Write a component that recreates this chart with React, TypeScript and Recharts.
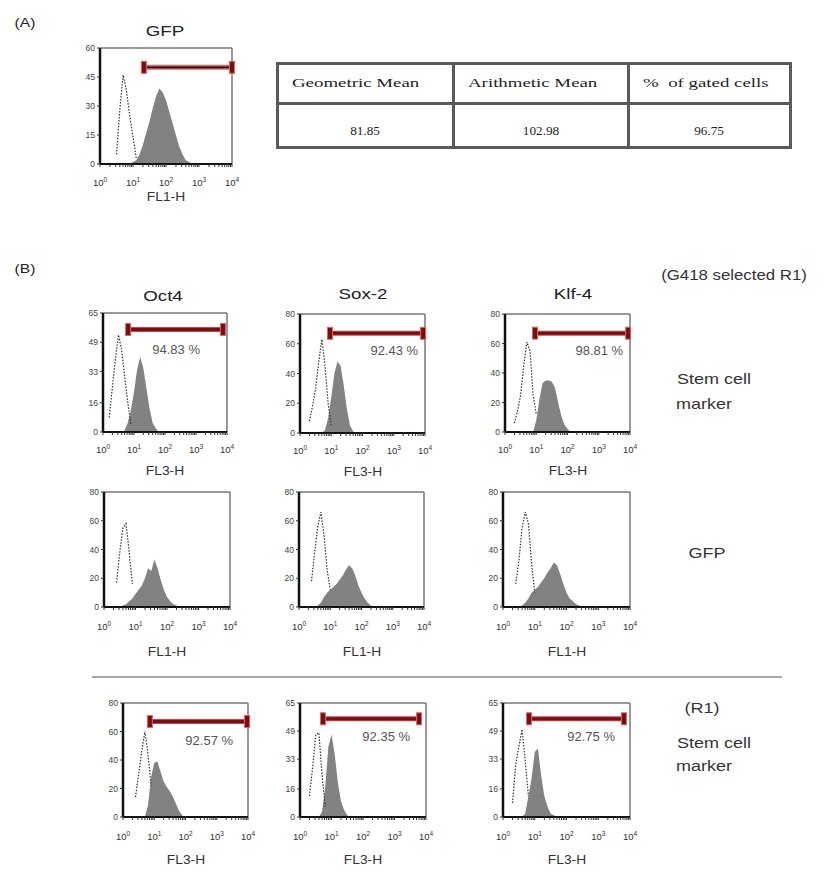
import React from "react";
import { ComposedChart, Area, Line, XAxis, YAxis, ReferenceLine } from "recharts";

type Bin = [number, number];

// each bin: [log10 of channel (10^0..10^4), event count]
// (A) GFP
const gfpCtrl: Bin[] = [[0.5, 5], [0.6, 28], [0.7, 46], [0.8, 38], [0.9, 25], [1.0, 14], [1.1, 3]];
const gfpStain: Bin[] = [[0.9, 0], [1.0, 1], [1.1, 2], [1.2, 5], [1.3, 10], [1.4, 16], [1.5, 22], [1.6, 29], [1.7, 35], [1.8, 39], [1.9, 37], [2.0, 33], [2.1, 27], [2.2, 21], [2.3, 15], [2.4, 9], [2.5, 5], [2.6, 2], [2.7, 1], [2.8, 0]];

// (B) G418 selected R1, stem cell markers (FL3-H)
const oct4Ctrl: Bin[] = [[0.2, 8], [0.3, 24], [0.4, 40], [0.5, 53], [0.6, 45], [0.7, 30], [0.8, 16], [0.9, 4]];
const oct4Stain: Bin[] = [[0.6, 0], [0.7, 1], [0.8, 5], [0.9, 12], [1.0, 22], [1.1, 34], [1.2, 41], [1.3, 35], [1.4, 24], [1.5, 13], [1.6, 5], [1.7, 2], [1.8, 0]];
const sox2Ctrl: Bin[] = [[0.3, 8], [0.4, 18], [0.5, 30], [0.6, 48], [0.7, 63], [0.8, 45], [0.9, 20], [1.0, 5]];
const sox2Stain: Bin[] = [[0.7, 0], [0.8, 2], [0.9, 10], [1.0, 24], [1.1, 40], [1.2, 48], [1.3, 45], [1.4, 32], [1.5, 16], [1.6, 5], [1.7, 1], [1.8, 0]];
const klf4Ctrl: Bin[] = [[0.3, 6], [0.4, 14], [0.5, 25], [0.6, 45], [0.7, 61], [0.8, 55], [0.9, 25], [1.0, 12]];
const klf4Stain: Bin[] = [[0.9, 0], [1.0, 8], [1.1, 22], [1.2, 33], [1.3, 35], [1.4, 35], [1.5, 34], [1.6, 30], [1.7, 20], [1.8, 11], [1.9, 5], [2.0, 2], [2.1, 0]];

// same cells, GFP (FL1-H)
const oct4GfpCtrl: Bin[] = [[0.4, 17], [0.5, 38], [0.6, 55], [0.7, 58], [0.8, 38], [0.9, 16]];
const oct4GfpStain: Bin[] = [[0.5, 0], [0.6, 1], [0.7, 2], [0.8, 4], [0.9, 6], [1.0, 9], [1.1, 12], [1.2, 15], [1.3, 20], [1.4, 27], [1.5, 25], [1.6, 33], [1.7, 27], [1.8, 19], [1.9, 12], [2.0, 7], [2.1, 4], [2.2, 2], [2.3, 1], [2.4, 0]];
const sox2GfpCtrl: Bin[] = [[0.4, 18], [0.5, 38], [0.6, 56], [0.7, 66], [0.8, 50], [0.9, 26], [1.0, 12]];
const sox2GfpStain: Bin[] = [[0.5, 0], [0.6, 1], [0.7, 3], [0.8, 7], [0.9, 10], [1.0, 12], [1.1, 14], [1.2, 16], [1.3, 19], [1.4, 22], [1.5, 26], [1.6, 29], [1.7, 27], [1.8, 22], [1.9, 15], [2.0, 10], [2.1, 6], [2.2, 3], [2.3, 1], [2.4, 0]];
const klf4GfpCtrl: Bin[] = [[0.4, 16], [0.5, 32], [0.6, 55], [0.7, 66], [0.8, 58], [0.9, 30], [1.0, 10]];
const klf4GfpStain: Bin[] = [[0.5, 0], [0.6, 1], [0.7, 3], [0.8, 6], [0.9, 10], [1.0, 12], [1.1, 14], [1.2, 17], [1.3, 20], [1.4, 24], [1.5, 27], [1.6, 31], [1.7, 29], [1.8, 23], [1.9, 16], [2.0, 10], [2.1, 6], [2.2, 4], [2.3, 2], [2.4, 1], [2.5, 0]];

// R1, stem cell markers (FL3-H)
const r1Oct4Ctrl: Bin[] = [[0.4, 14], [0.5, 30], [0.6, 46], [0.7, 60], [0.8, 44], [0.9, 22]];
const r1Oct4Stain: Bin[] = [[0.7, 0], [0.8, 8], [0.9, 28], [1.0, 38], [1.1, 39], [1.2, 32], [1.3, 25], [1.4, 21], [1.5, 18], [1.6, 14], [1.7, 9], [1.8, 4], [1.9, 1], [2.0, 0]];
const r1Sox2Ctrl: Bin[] = [[0.3, 12], [0.4, 28], [0.5, 47], [0.6, 48], [0.7, 24], [0.8, 6]];
const r1Sox2Stain: Bin[] = [[0.6, 0], [0.7, 3], [0.8, 17], [0.9, 40], [1.0, 47], [1.1, 36], [1.2, 20], [1.3, 9], [1.4, 4], [1.5, 1], [1.6, 0]];
const r1Klf4Ctrl: Bin[] = [[0.3, 8], [0.4, 30], [0.5, 40], [0.6, 50], [0.7, 32], [0.8, 12]];
const r1Klf4Stain: Bin[] = [[0.6, 0], [0.7, 2], [0.8, 12], [0.9, 22], [1.0, 37], [1.1, 39], [1.2, 24], [1.3, 12], [1.4, 6], [1.5, 2], [1.6, 1], [1.7, 0]];

const ticks60 = [0, 15, 30, 45, 60];
const ticks65 = [0, 16, 33, 49, 65];
const ticks80 = [0, 20, 40, 60, 80];

const decades = [0, 1, 2, 3, 4];
const minor = decades.slice(0, 4).flatMap((d) => [2, 3, 4, 5, 6, 7, 8, 9].map((m) => d + Math.log10(m)));
const xTicks = [...decades, ...minor].sort((a, b) => a - b);

const tableHead = ["Geometric Mean", "Arithmetic Mean", "%  of gated cells"];
const tableVals = ["81.85", "102.98", "96.75"];

const SANS = "'Liberation Sans', Arial, sans-serif";
const SERIF = "'Liberation Serif', 'Times New Roman', serif";

type Gate = { from: number; to: number; at: number; black?: boolean; label?: string; shift?: number; dy?: number };
type Spec = {
  x: number; y: number; w: number; h: number;
  yMax: number; yTicks: number[];
  ctrl: Bin[]; stain: Bin[];
  gate?: Gate; xLabel: string; tickDy: number; labelDy: number;
};

function toRows(ctrl: Bin[], stain: Bin[]) {
  const m = new Map<string, { x: number; ctrl: number | null; stain: number | null }>();
  const get = (x: number) => {
    const k = x.toFixed(2);
    if (!m.has(k)) m.set(k, { x, ctrl: null, stain: null });
    return m.get(k)!;
  };
  ctrl.forEach(([x, y]) => (get(x).ctrl = y));
  stain.forEach(([x, y]) => (get(x).stain = y));
  return [...m.values()].sort((a, b) => a.x - b.x);
}

const Txt = ({ cx, cy, size, sx = 1, color = "#222", font = SANS, children }: any) => (
  <div
    style={{
      position: "absolute", left: cx, top: cy, whiteSpace: "nowrap", lineHeight: 1,
      transform: `translate(-50%, -50%) scaleX(${sx})`, fontSize: size, color, fontFamily: font,
    }}
  >
    {children}
  </div>
);

const LogTick = ({ x, y, payload, dy }: any) => {
  if (!Number.isInteger(payload.value)) return <g />;
  return (
    <text x={x} y={y + dy} textAnchor="middle" fontSize={9.5} fill="#333" fontFamily={SANS}>
      10<tspan dy={-4} fontSize={6.5}>{payload.value}</tspan>
    </text>
  );
};

const CountTick = ({ x, y, payload }: any) => (
  <text x={x} y={y + 3} textAnchor="end" fontSize={8.5} fill="#444" fontFamily={SANS}>
    {payload.value}
  </text>
);

const GateBar = ({ x1, y1, x2, g }: any) => (
  <g>
    <line x1={x1} y1={y1} x2={x2} y2={y1} stroke={g.black ? "#d66" : "#c04848"} strokeWidth={5} />
    <line x1={x1} y1={y1} x2={x2} y2={y1} stroke={g.black ? "#111" : "#7a0e0e"} strokeWidth={g.black ? 1.8 : 3} />
    <rect x={x1 - 2.5} y={y1 - 6} width={5} height={12} fill="#7a0e0e" stroke="#d66" strokeWidth={1} />
    <rect x={x2 - 2.5} y={y1 - 6} width={5} height={12} fill="#7a0e0e" stroke="#d66" strokeWidth={1} />
    {g.label && (
      <text x={x2 - g.shift} y={y1 + g.dy + 4.5} textAnchor="end" fontSize={13} fill="#555" fontFamily={SANS}>
        {g.label}
      </text>
    )}
  </g>
);

const Panel = ({ p }: { p: Spec }) => {
  const rows = toRows(p.ctrl, p.stain);
  const g = p.gate;
  return (
    <>
      <div style={{ position: "absolute", left: p.x - 30, top: p.y - 8 }}>
        <ComposedChart width={p.w + 38} height={p.h + 58} data={rows} margin={{ top: 8, right: 8, bottom: 0, left: 0 }}>
          <XAxis
            dataKey="x" type="number" domain={[0, 4]} ticks={xTicks} interval={0} height={50}
            tickSize={3} tickMargin={0} allowDataOverflow
            axisLine={{ stroke: "#111", strokeWidth: 2 }} tickLine={{ stroke: "#333" }}
            tick={(t: any) => <LogTick {...t} dy={p.tickDy} />}
          />
          <YAxis
            type="number" domain={[0, p.yMax]} ticks={p.yTicks} interval={0} width={30}
            tickSize={3} tickMargin={2} allowDataOverflow
            axisLine={{ stroke: "#111", strokeWidth: 2.5 }} tickLine={{ stroke: "#333" }}
            tick={(t: any) => <CountTick {...t} />}
          />
          <ReferenceLine y={p.yMax} stroke="#777" strokeWidth={1.5} />
          <ReferenceLine x={4} stroke="#777" strokeWidth={1.5} />
          <Area dataKey="stain" type="linear" fill="#828282" fillOpacity={1} stroke="none" isAnimationActive={false} />
          <Line dataKey="ctrl" type="linear" stroke="#333" strokeWidth={1.2} strokeDasharray="1.5 1.5" dot={false} isAnimationActive={false} />
          {g && (
            <ReferenceLine
              segment={[{ x: g.from, y: g.at }, { x: g.to, y: g.at }]}
              shape={(s: any) => <GateBar {...s} g={g} />}
            />
          )}
        </ComposedChart>
      </div>
      <Txt cx={p.x + p.w / 2} cy={p.y + p.h + p.labelDy} size={12} sx={1.15} color="#333">{p.xLabel}</Txt>
    </>
  );
};

const panels: Spec[] = [
  { x: 100, y: 48, w: 132, h: 116, yMax: 60, yTicks: ticks60, ctrl: gfpCtrl, stain: gfpStain, gate: { from: 1.33, to: 4, at: 50, black: true }, xLabel: "FL1-H", tickDy: 19, labelDy: 33 },
  { x: 103, y: 313, w: 124, h: 119, yMax: 65, yTicks: ticks65, ctrl: oct4Ctrl, stain: oct4Stain, gate: { from: 0.81, to: 3.87, at: 56, label: "94.83 %", shift: 23, dy: 20 }, xLabel: "FL3-H", tickDy: 18, labelDy: 39 },
  { x: 300, y: 314, w: 125, h: 119, yMax: 80, yTicks: ticks80, ctrl: sox2Ctrl, stain: sox2Stain, gate: { from: 0.96, to: 3.94, at: 67, label: "92.43 %", shift: 5, dy: 17 }, xLabel: "FL3-H", tickDy: 18, labelDy: 39 },
  { x: 505, y: 314, w: 125, h: 118, yMax: 80, yTicks: ticks80, ctrl: klf4Ctrl, stain: klf4Stain, gate: { from: 0.96, to: 3.94, at: 67, label: "98.81 %", shift: 5, dy: 17 }, xLabel: "FL3-H", tickDy: 18, labelDy: 39 },
  { x: 104, y: 492, w: 126, h: 115, yMax: 80, yTicks: ticks80, ctrl: oct4GfpCtrl, stain: oct4GfpStain, xLabel: "FL1-H", tickDy: 20, labelDy: 45 },
  { x: 299, y: 492, w: 125, h: 115, yMax: 80, yTicks: ticks80, ctrl: sox2GfpCtrl, stain: sox2GfpStain, xLabel: "FL1-H", tickDy: 20, labelDy: 45 },
  { x: 503, y: 492, w: 127, h: 115, yMax: 80, yTicks: ticks80, ctrl: klf4GfpCtrl, stain: klf4GfpStain, xLabel: "FL1-H", tickDy: 20, labelDy: 45 },
  { x: 123, y: 703, w: 125, h: 114, yMax: 80, yTicks: ticks80, ctrl: r1Oct4Ctrl, stain: r1Oct4Stain, gate: { from: 0.86, to: 3.97, at: 67, label: "92.57 %", shift: 14, dy: 19 }, xLabel: "FL3-H", tickDy: 20, labelDy: 43 },
  { x: 300, y: 703, w: 126, h: 114, yMax: 65, yTicks: ticks65, ctrl: r1Sox2Ctrl, stain: r1Sox2Stain, gate: { from: 0.73, to: 3.78, at: 56, label: "92.35 %", shift: 9, dy: 18 }, xLabel: "FL3-H", tickDy: 20, labelDy: 43 },
  { x: 503, y: 703, w: 127, h: 114, yMax: 65, yTicks: ticks65, ctrl: r1Klf4Ctrl, stain: r1Klf4Stain, gate: { from: 0.82, to: 3.81, at: 56, label: "92.75 %", shift: 9, dy: 18 }, xLabel: "FL3-H", tickDy: 20, labelDy: 43 },
];

const line = (left: number, top: number, width: number, height: number, color = "#5a5a5a") => (
  <div style={{ position: "absolute", left, top, width, height, background: color }} />
);

export default function App() {
  const cols = [277, 453, 628, 790];
  return (
    <div style={{ position: "absolute", left: 0, top: 0, width: 827, height: 873, background: "#fff", fontFamily: SANS, overflow: "hidden" }}>
      <Txt cx={25} cy={22} size={13} sx={1.2}>(A)</Txt>
      <Txt cx={165} cy={30} size={15} sx={1.25}>GFP</Txt>

      {/* table (A) */}
      {line(cols[0], 62, cols[3] - cols[0], 3)}
      {line(cols[0], 102, cols[3] - cols[0], 3)}
      {line(cols[0], 146, cols[3] - cols[0], 3)}
      {cols.map((c) => line(c - 1, 62, 3, 87))}
      {tableHead.map((t, i) => (
        <div key={t} style={{ position: "absolute", left: cols[i] + 15, top: 82, transform: "translateY(-50%) scaleX(1.45)", transformOrigin: "left center", fontFamily: SERIF, fontSize: 13, color: "#222", whiteSpace: "pre", lineHeight: 1 }}>{t}</div>
      ))}
      {tableVals.map((v, i) => (
        <Txt key={v} cx={(cols[i] + cols[i + 1]) / 2} cy={131} size={12} sx={1.1} font={SERIF}>{v}</Txt>
      ))}

      <Txt cx={25} cy={268} size={13} sx={1.2}>(B)</Txt>
      <Txt cx={734} cy={275} size={14} sx={1.2} color="#333">(G418 selected R1)</Txt>
      <Txt cx={163} cy={295} size={15} sx={1.25}>Oct4</Txt>
      <Txt cx={363} cy={293} size={15} sx={1.25}>Sox-2</Txt>
      <Txt cx={573} cy={293} size={15} sx={1.25}>Klf-4</Txt>
      <Txt cx={714} cy={378} size={15} sx={1.2} color="#333">Stem cell</Txt>
      <Txt cx={704} cy={403} size={15} sx={1.2} color="#333">marker</Txt>
      <Txt cx={707} cy={552} size={15} sx={1.2} color="#333">GFP</Txt>
      {line(92, 676, 690, 2, "#a8a8a8")}
      <Txt cx={702} cy={707} size={15} sx={1.2} color="#333">(R1)</Txt>
      <Txt cx={714} cy={742} size={15} sx={1.2} color="#333">Stem cell</Txt>
      <Txt cx={704} cy={765} size={15} sx={1.2} color="#333">marker</Txt>

      {panels.map((p, i) => (
        <Panel key={i} p={p} />
      ))}
    </div>
  );
}
